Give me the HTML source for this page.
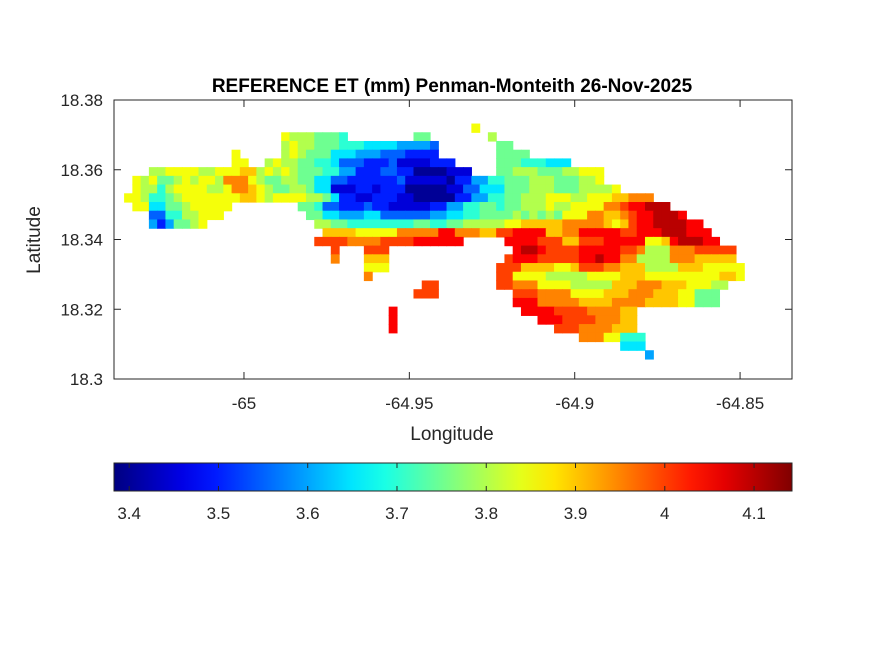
<!DOCTYPE html>
<html><head><meta charset="utf-8"><style>
html,body{margin:0;padding:0;background:#fff;}
svg{display:block;font-family:"Liberation Sans",Arial,sans-serif;}
</style></head><body>
<svg id="chart" width="875" height="656" viewBox="0 0 875 656">
<defs><linearGradient id="jetgrad" x1="0" x2="1" y1="0" y2="0"></linearGradient></defs>
<rect x="0" y="0" width="875" height="656" fill="#fff"/>
<text x="452" y="92" text-anchor="middle" font-size="19" font-weight="bold">REFERENCE ET (mm) Penman-Monteith 26-Nov-2025</text>
<g id="cells"></g>
<rect x="114" y="100" width="678" height="279" fill="none" stroke="#262626" stroke-width="1"/>
<g id="xticks"></g>
<g id="yticks"></g>
<text x="452" y="440" text-anchor="middle" font-size="19" fill="#262626">Longitude</text>
<text x="0" y="0" transform="translate(40,240) rotate(-90)" text-anchor="middle" font-size="19" fill="#262626">Latitude</text>
<rect x="114" y="463" width="678" height="28" fill="url(#jetgrad)" stroke="#262626" stroke-width="1"/>
<g id="cticks"></g>
</svg>
<script>
// ---- data ----
const lon0 = -65.035;      // longitude of grid column 0 centre
const lat0 = 18.372;       // latitude of grid row 0 centre
const gridStep = 0.0025;   // degrees per cell
const levelChars = "0123456789ABCDE";
const levelValues = [3.40,3.45,3.50,3.55,3.60,3.65,3.70,3.75,3.80,3.85,3.90,3.95,4.00,4.05,4.10];
const gridRows = [
 [[42,"9"]],
 [[19,"98887776"],[35,"77"],[44,"8"]],
 [[19,"8988777666555544443"],[45,"77"]],
 [[13,"9"],[19,"8987775554443332222"],[45,"7777"]],
 [[13,"99"],[17,"89887766533322231111222"],[45,"777666555"]],
 [[3,"88999988999AA89898777664422233220000111"],[45,"7788877788999"]],
 [[1,"98977898998BBB9877887755332222223111110224466777888777889"]],
 [[1,"988689999889BBA98778875511122122200000113355577788877788889"]],
 [[0,"99866789999999AA989999887522112221100000224466778889998899 9AABBB".replace(/ /g,"")]],
 [[1,"995577899999"],[21,"776332223221111122446677677888988999 9BBCDDEEE".replace(/ /g,"")]],
 [[3,"336688999"],[22,"7755444553333334455667777878787999BBAABCDDEEED"]],
 [[3,"4247789"],[23,"887766666666776677888889 9AAAAABBBBBA9ACDDEEEEDD".replace(/ /g,"")]],
 [[24,"AAAA99999BBBBBDDBBBAACCDDDDAABBDDDDDCCDDDEEEDDD"]],
 [[23,"CCCCBBBBCCCCDDDDDD"],[46,"DDDDCCCAACCCDDDDD99ADEEEDD"]],
 [[25,"C"],[29,"CCC"],[47,"DEEDCCCCDDDDDCCB888BBBCCCCC"]],
 [[25,"B"],[29,"AAA"],[46,"CDDDCCCCCDDEDDBB8888BBBAAAAA"]],
 [[29,"999"],[45,"CCCAAAA99ACCCBBAAA8888AAA99999"]],
 [[29,"B"],[45,"CC999988888999 9AAA99999999 9AA9".replace(/ /g,"")]],
 [[36,"CC"],[45,"CCBBB999988888AAABBBAAA99988"]],
 [[35,"CCC"],[47,"CCCBBBB9999AAABBBAAA99777"]],
 [[47,"DDDBBBBBAAAABBBBAAAA99777"]],
 [[32,"D"],[48,"DDDDCCCCBBBBAA"]],
 [[32,"D"],[50,"DDDCCCCBBBAA"]],
 [[32,"D"],[52,"CCCBBBBAAA"]],
 [[55,"BBB99666"]],
 [[60,"555"]],
 [[63,"4"]]
];
const xTickValues = [-65, -64.95, -64.9, -64.85];
const xTickLabels = ["-65", "-64.95", "-64.9", "-64.85"];
const yTickValues = [18.30, 18.32, 18.34, 18.36, 18.38];
const yTickLabels = ["18.3", "18.32", "18.34", "18.36", "18.38"];
const cTickValues = [3.4, 3.5, 3.6, 3.7, 3.8, 3.9, 4.0, 4.1];
const cTickLabels = ["3.4", "3.5", "3.6", "3.7", "3.8", "3.9", "4", "4.1"];
const xDomain = [-65.0393, -64.8343];
const yDomain = [18.30, 18.38];
const cDomain = [3.383, 4.1425];

// ---- scales ----
const NS = "http://www.w3.org/2000/svg";
function xScale(v){ return 114 + (v - xDomain[0]) / (xDomain[1] - xDomain[0]) * 678; }
function yScale(v){ return 379 - (v - yDomain[0]) / (yDomain[1] - yDomain[0]) * 279; }
function cScale(v){ return 114 + (v - cDomain[0]) / (cDomain[1] - cDomain[0]) * 678; }
function clamp(a){ return Math.max(0, Math.min(1, a)); }
function jet(f){
  f = clamp(f);
  const r = clamp(1.5 - Math.abs(4*f - 3)), g = clamp(1.5 - Math.abs(4*f - 2)), b = clamp(1.5 - Math.abs(4*f - 1));
  return "rgb(" + Math.round(r*255) + "," + Math.round(g*255) + "," + Math.round(b*255) + ")";
}
function colorFor(v){ return jet((v - cDomain[0]) / (cDomain[1] - cDomain[0])); }
function mk(tag, attrs, parent){
  const e = document.createElementNS(NS, tag);
  for (const k in attrs) e.setAttribute(k, attrs[k]);
  parent.appendChild(e);
  return e;
}

// ---- heatmap cells ----
const cellsG = document.getElementById("cells");
gridRows.forEach(function(segs, r){
  const lat = lat0 - r * gridStep;
  const yTop = yScale(lat + gridStep/2), yBot = yScale(lat - gridStep/2);
  segs.forEach(function(seg){
    const start = seg[0], s = seg[1];
    for (let i = 0; i < s.length; i++){
      const k = levelChars.indexOf(s[i]);
      if (k < 0) continue;
      const lon = lon0 + (start + i) * gridStep;
      const x1 = xScale(lon - gridStep/2), x2 = xScale(lon + gridStep/2);
      const rc = mk("rect", {x: x1.toFixed(2), y: yTop.toFixed(2), width: (x2 - x1 + 0.6).toFixed(2), height: (yBot - yTop + 0.6).toFixed(2), fill: colorFor(levelValues[k])}, cellsG);
      
      
    }
  });
});

// ---- axes ----
const xg = document.getElementById("xticks");
xTickValues.forEach(function(v, i){
  const x = xScale(v);
  const t1 = mk("line", {x1: x, x2: x, y1: 379, y2: 372, stroke: "#262626"}, xg);
  
  
  const t2 = mk("line", {x1: x, x2: x, y1: 100, y2: 107, stroke: "#262626"}, xg);
  
  
  const tx = mk("text", {x: x, y: 409, "text-anchor": "middle", "font-size": 17, fill: "#262626"}, xg);
  tx.textContent = xTickLabels[i];
  
  
});
const yg = document.getElementById("yticks");
yTickValues.forEach(function(v, i){
  const y = yScale(v);
  const t1 = mk("line", {x1: 114, x2: 121, y1: y, y2: y, stroke: "#262626"}, yg);
  
  
  const t2 = mk("line", {x1: 785, x2: 792, y1: y, y2: y, stroke: "#262626"}, yg);
  
  
  const tx = mk("text", {x: 103, y: y + 6, "text-anchor": "end", "font-size": 17, fill: "#262626"}, yg);
  tx.textContent = yTickLabels[i];
  
  
});

// ---- colorbar ----
const grad = document.getElementById("jetgrad");
for (let i = 0; i <= 20; i++){
  mk("stop", {offset: (i/20*100) + "%", "stop-color": jet(i/20)}, grad);
}
const cg = document.getElementById("cticks");
cTickValues.forEach(function(v, i){
  const x = cScale(v);
  const t1 = mk("line", {x1: x, x2: x, y1: 491, y2: 486, stroke: "#262626"}, cg);
  
  
  const t2 = mk("line", {x1: x, x2: x, y1: 463, y2: 468, stroke: "#262626"}, cg);
  
  
  const tx = mk("text", {x: x, y: 519, "text-anchor": "middle", "font-size": 17, fill: "#262626"}, cg);
  tx.textContent = cTickLabels[i];
  
  
});
</script>
</body></html>
